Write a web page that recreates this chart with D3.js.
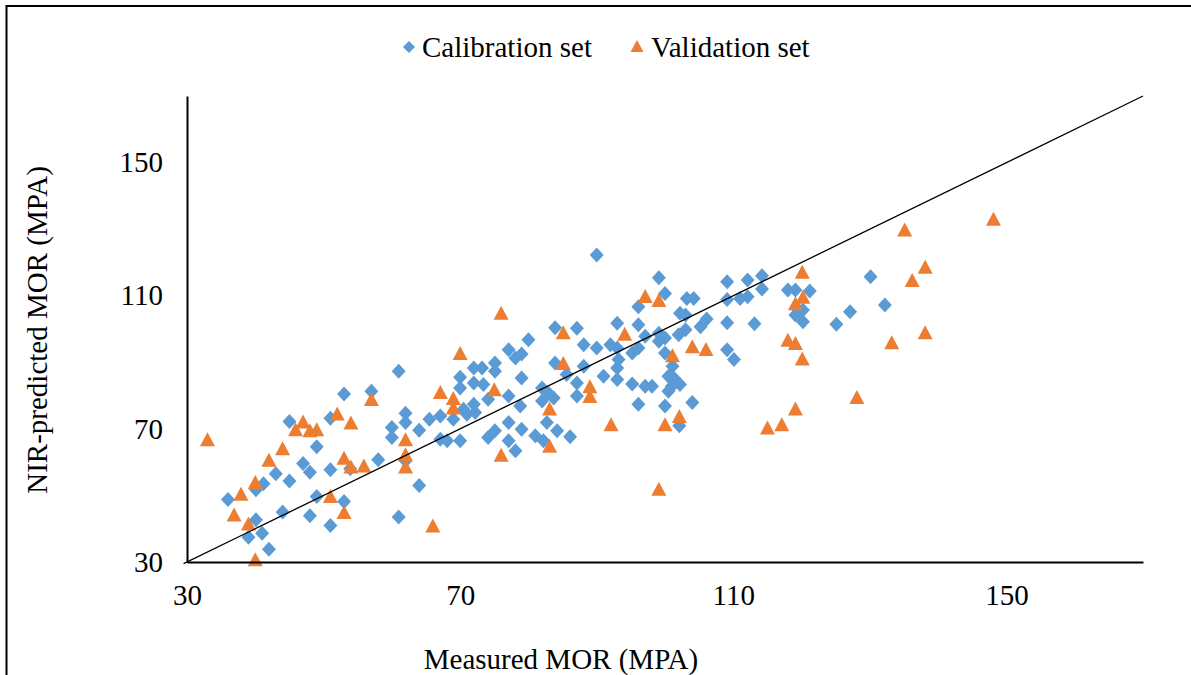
<!DOCTYPE html>
<html>
<head>
<meta charset="utf-8">
<script src="https://cdn.jsdelivr.net/npm/d3@7"></script>
<style>
  body { margin: 0; background: #fff; }
  svg text { font-family: "Liberation Serif", "Times New Roman", serif; fill: #000; }
</style>
</head>
<body>
<svg id="scatter" width="1191" height="675"></svg>
<script>
// Calibration set (measured, predicted)
var calX = [36.0, 40.1, 41.2, 43.0, 45.0, 45.0, 47.0, 48.0, 49.0, 51.0, 51.0, 53.0, 57.0, 61.0, 58.0, 53.9,
    40.1, 41.0, 39.0, 42.0, 44.0, 48.0, 51.0, 49.0, 53.0, 61.0, 64.0, 60.0, 60.0, 62.0, 62.0, 64.0, 62.0, 65.5,
    70.0, 70.0, 72.0, 72.0, 73.2, 75.1, 75.1, 73.4, 79.0, 67.1, 69.0, 70.5, 72.0, 71.0, 72.2, 74.1, 77.1, 78.8,
    77.1, 75.1, 74.1, 67.1, 68.1, 70.0, 77.1, 78.1, 79.0, 81.0, 82.2, 82.7, 84.2, 86.1, 82.0, 82.9, 83.7, 82.0,
    87.1, 85.6, 87.1, 91.0, 93.0, 93.0, 95.2, 97.1, 98.1, 96.1, 100.0, 100.5, 100.5,
    90.0, 99.1, 100.0, 96.1, 83.9, 87.1, 80.0, 77.1, 79.0, 78.1, 88.1, 90.0, 92.0, 93.0, 96.1, 97.1, 99.1, 99.1,
    100.0, 95.2, 96.1, 93.0, 93.2, 100.0, 83.9, 88.1,
    103.2, 104.2, 102.2, 103.0, 109.1, 112.1, 114.2, 114.2, 109.1, 111.0, 112.1, 118.0, 119.1, 121.2, 119.3,
    120.2, 119.1, 120.2, 130.1, 132.2, 127.1, 125.1, 113.1, 109.1, 106.1, 105.2, 103.0, 102.0, 109.1, 110.1, 101.1,
    101.3, 102.2, 101.0, 104.0, 102.1];
var calY = [48.8, 51.7, 53.5, 56.5, 72.2, 54.3, 59.6, 57.0, 64.6, 73.2, 57.7, 80.5, 81.3, 87.3, 60.7, 58.0,
    42.7, 38.6, 37.4, 33.8, 45.0, 43.9, 41.0, 49.7, 48.2, 43.5, 53.0, 70.4, 67.4, 74.7, 71.9, 69.6, 60.4, 72.9,
    85.5, 82.3, 83.8, 88.3, 88.3, 87.3, 89.8, 83.3, 85.3, 73.9, 72.9, 75.9, 77.4, 74.4, 74.9, 78.9, 79.9, 76.9,
    71.9, 69.4, 67.4, 66.9, 66.4, 66.4, 66.4, 63.4, 69.9, 67.9, 66.4, 71.9, 69.4, 67.6, 78.4, 80.8, 79.3, 82.3,
    79.9, 86.3, 83.8, 85.8, 84.8, 88.3, 83.5, 82.8, 82.8, 77.4, 76.9, 85.8, 81.3,
    122.2, 115.4, 110.7, 106.7, 100.4, 100.2, 96.8, 93.8, 92.5, 91.3, 95.3, 94.3, 95.3, 101.7, 101.3, 97.8, 98.7, 96.3,
    97.3, 92.8, 94.3, 94.3, 90.8, 92.8, 89.8, 88.8,
    109.2, 109.2, 104.7, 104.2, 114.2, 114.7, 116.0, 112.0, 108.9, 109.2, 109.7, 111.7, 111.7, 111.4, 106.2,
    105.7, 104.2, 102.2, 115.7, 107.2, 105.2, 101.4, 101.6, 101.9, 103.0, 100.7, 99.8, 98.3, 93.8, 90.8, 88.8,
    85.3, 83.3, 82.8, 77.9, 70.9];

// Validation set (measured, predicted)
var valX = [33.0, 36.9, 37.9, 39.0, 40.0, 40.0, 42.0, 44.0, 45.9, 47.0, 48.0, 49.0, 52.0, 54.0, 51.0, 53.0,
    53.0, 54.0, 55.9, 57.0, 62.0, 62.0, 62.0, 66.0, 67.1, 69.0, 69.0, 70.0, 75.0, 76.0, 76.0, 83.1, 83.1, 85.1,
    85.1, 89.0, 89.0, 92.1, 94.1, 97.1, 99.1, 99.1, 100.0, 101.1, 102.1, 104.0, 106.0, 115.0, 117.1, 118.0,
    119.1, 119.1, 119.1, 120.1, 120.2, 120.1, 128.1, 133.2, 135.1, 136.2, 138.1, 138.1, 148.1];
var valY = [66.9, 44.3, 50.5, 41.6, 54.0, 30.8, 60.7, 64.2, 69.9, 72.2, 69.6, 69.9, 74.6, 71.9, 49.8, 45.0,
    61.3, 58.7, 59.0, 79.0, 66.9, 62.4, 58.7, 41.0, 81.1, 79.3, 76.4, 92.8, 81.9, 62.2, 104.9, 76.1, 64.9, 99.0,
    89.8, 82.8, 79.9, 71.4, 98.6, 109.9, 108.7, 52.0, 71.4, 92.1, 73.9, 94.8, 94.0, 70.4, 71.4, 96.8,
    95.8, 76.1, 107.7, 117.2, 109.7, 91.1, 79.6, 96.0, 129.9, 114.7, 118.7, 99.0, 133.1];

// 1:1 reference line
var lineX = [29.5, 170];
var lineY = [29.5, 170];

var xTicks = [30, 70, 110, 150];
var yTicks = [30, 70, 110, 150];
var seriesNames = ["Calibration set", "Validation set"];

var calibration = calX.map(function(d, i){ return {x: d, y: calY[i]}; });
var validation = valX.map(function(d, i){ return {x: d, y: valY[i]}; });
var refLine = lineX.map(function(d, i){ return {x: d, y: lineY[i]}; });

var dimensions = {
    width: 1191,
    height: 675,
    margin: { top: 96, bottom: 113, left: 187, right: 48 }
};

var blue = "#5B9BD5";
var orange = "#ED7D31";
var diamond = "M0,-7.5L7,0L0,7.5L-7,0Z";
var triangle = "M0,-7L7.5,7L-7.5,7Z";

var svg = d3.select("#scatter");

// chart frame
svg.append("rect")
    .attr("x", 6.5)
    .attr("y", 6)
    .attr("width", 1300)
    .attr("height", 800)
    .attr("fill", "none")
    .attr("stroke", "#000")
    .attr("stroke-width", 2);

var xScale = d3.scaleLinear()
    .domain([30, 170])
    .range([dimensions.margin.left, dimensions.width - dimensions.margin.right]);

var yScale = d3.scaleLinear()
    .domain([30, 170])
    .range([dimensions.height - dimensions.margin.bottom, dimensions.margin.top]);

// points
svg.append("g").selectAll("path")
    .data(calibration)
    .enter().append("path")
    .attr("d", diamond)
    .attr("transform", d => `translate(${xScale(d.x)},${yScale(d.y)})`)
    .attr("fill", blue);

svg.append("g").selectAll("path")
    .data(validation)
    .enter().append("path")
    .attr("d", triangle)
    .attr("transform", d => `translate(${xScale(d.x)},${yScale(d.y)})`)
    .attr("fill", orange);

// axes
var xAxisGen = d3.axisBottom(xScale).tickValues(xTicks).tickSize(0).tickSizeOuter(0).tickPadding(22);
var xAxis = svg.append("g")
    .attr("transform", `translate(0,${dimensions.height - dimensions.margin.bottom})`)
    .call(xAxisGen);

var yAxisGen = d3.axisLeft(yScale).tickValues(yTicks).tickSize(0).tickSizeOuter(0).tickPadding(24);
var yAxis = svg.append("g")
    .attr("transform", `translate(${dimensions.margin.left},0)`)
    .call(yAxisGen);

svg.selectAll(".domain").attr("stroke", "#000").attr("stroke-width", 2);
svg.selectAll(".tick text")
    .style("font-family", "'Liberation Serif', serif")
    .style("font-size", "29px")
    .attr("fill", "#000");

// 1:1 line
var line = d3.line()
    .x(d => xScale(d.x))
    .y(d => yScale(d.y));

svg.append("path")
    .datum(refLine)
    .attr("d", line)
    .attr("fill", "none")
    .attr("stroke", "#000")
    .attr("stroke-width", 1.3);

// axis titles
svg.append("text")
    .attr("x", 561)
    .attr("y", 669)
    .attr("text-anchor", "middle")
    .style("font-size", "29px")
    .text("Measured MOR (MPA)");

svg.append("text")
    .attr("transform", "translate(47,330) rotate(-90)")
    .attr("text-anchor", "middle")
    .style("font-size", "29px")
    .text("NIR-predicted MOR (MPA)");

// legend
var legend = svg.append("g");

legend.append("path")
    .attr("d", "M0,-6L6,0L0,6L-6,0Z")
    .attr("transform", "translate(409,47)")
    .attr("fill", blue);

legend.append("text")
    .attr("x", 422)
    .attr("y", 57)
    .style("font-size", "29px")
    .text(seriesNames[0]);

legend.append("path")
    .attr("d", "M0,-6L6.5,6L-6.5,6Z")
    .attr("transform", "translate(637,46)")
    .attr("fill", orange);

legend.append("text")
    .attr("x", 651)
    .attr("y", 57)
    .style("font-size", "29px")
    .text(seriesNames[1]);
</script>
</body>
</html>
